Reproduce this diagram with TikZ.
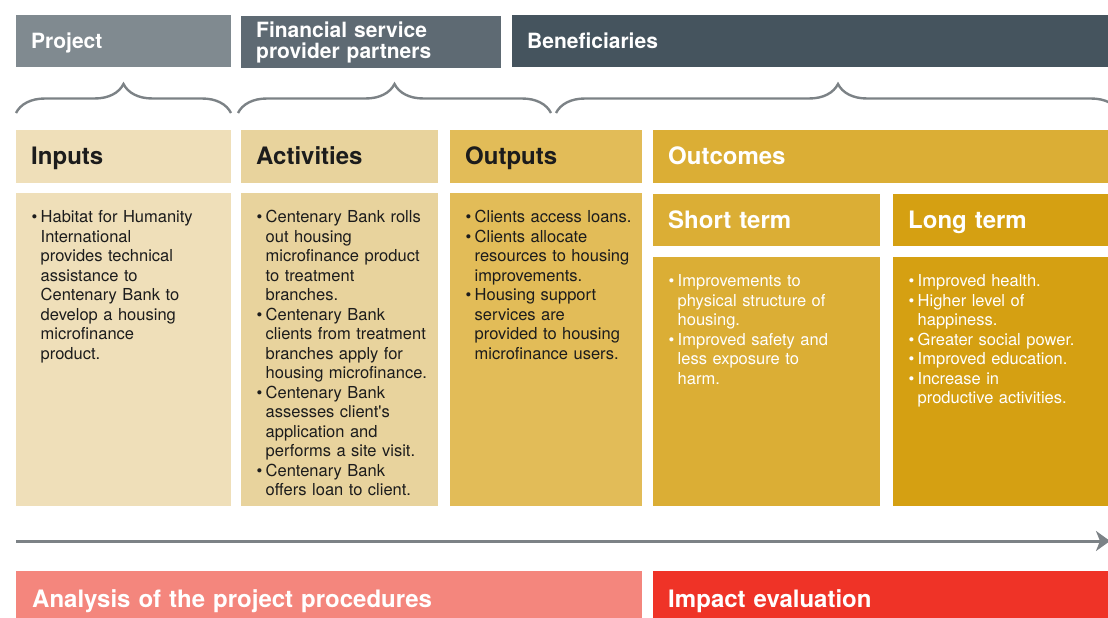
\documentclass[tikz,border=0pt]{standalone}
\usepackage{fontspec}
\setmainfont{TeX Gyre Heros}
\usetikzlibrary{positioning,arrows.meta,decorations.pathreplacing}
\definecolor{projgray}{HTML}{808A90}
\definecolor{fspgray}{HTML}{5E6A73}
\definecolor{benegray}{HTML}{45545E}
\definecolor{inputtan}{HTML}{EFDFB9}
\definecolor{acttan}{HTML}{E8D39D}
\definecolor{outgold}{HTML}{E2BC58}
\definecolor{outcgold}{HTML}{DBAE35}
\definecolor{longgold}{HTML}{D5A012}
\definecolor{procsalmon}{HTML}{F4867D}
\definecolor{impactred}{HTML}{EF3327}
\definecolor{bracegray}{HTML}{7C8286}
\definecolor{ink}{HTML}{1C1C1C}
\newcommand{\itm}{\par\hangindent=9pt\hangafter=1\noindent\makebox[9pt][l]{\textbullet}}

\begin{document}
\begin{tikzpicture}[x=1pt, y=-1pt,
		bar/.style={fill=#1, anchor=north west, inner xsep=15pt, inner ysep=0pt, align=left, text=white},
		toptab/.style={bar=#1, minimum height=52pt, font=\fontsize{21}{21}\selectfont\bfseries},
		head/.style={bar=#1, minimum height=53pt, text height=18pt, text depth=3pt, font=\fontsize{24}{28}\selectfont\bfseries},
		subhead/.style={bar=#1, minimum height=52pt, text height=19pt, text depth=2pt, font=\fontsize{24}{28}\selectfont\bfseries},
		foot/.style={bar=#1, minimum height=47pt, text height=25pt, text depth=0pt, font=\fontsize{24}{28}\selectfont\bfseries},
		panel/.style={fill=#1, anchor=north west, inner sep=0pt},
		blurb/.style={inner sep=0pt, text width=200pt, font=\fontsize{16.5}{19.5}\selectfont\raggedright},
		curly/.style={draw=bracegray, line width=2.4pt, decorate, decoration={brace, amplitude=29pt}}]
			\useasboundingbox (0, 0) rectangle (1108, 618);

			\node[toptab=projgray, text width=185pt, text height=17pt, text depth=2.5pt] (project) at (16, 15) {Project};
			\node[toptab=fspgray, text width=230pt, yshift=-1pt] (fsp) at (241, 15) {Financial service\\provider partners};
			\node[toptab=benegray, text width=566pt, text height=17pt, text depth=2.5pt] (bene) at (512, 15) {Beneficiaries};

			\draw[curly] (16, 113) -- (231, 113);
			\draw[curly] (238, 113) -- (551, 113);
			\draw[curly] (556, 113) -- (1120, 113);

			\node[head=inputtan, text=ink, text width=185pt] (inputs) at (16, 130) {Inputs};
			\node[head=acttan, text=ink, text width=167pt] (activities) at (241, 130) {Activities};
			\node[head=outgold, text=ink, text width=162pt] (outputs) at (450, 130) {Outputs};
			\node[head=outcgold, text width=425pt] (outcomes) at (653, 130) {Outcomes};

			\node[panel=inputtan, minimum width=215pt, minimum height=313pt] (inbody) at (16, 193) {};
			\node[panel=acttan, minimum width=197pt, minimum height=313pt] (actbody) at (241, 193) {};
			\node[panel=outgold, minimum width=192pt, minimum height=313pt] (outbody) at (450, 193) {};
			\node[subhead=outcgold, text width=197pt] (short) at (653, 194) {Short term};
			\node[subhead=longgold, text width=185pt] (long) at (893, 194) {Long term};
			\node[panel=outcgold, minimum width=227pt, minimum height=249pt] (shortbody) at (653, 257) {};
			\node[panel=longgold, minimum width=215pt, minimum height=249pt] (longbody) at (893, 257) {};

			\node[blurb, text=ink, below right=10pt and 15.5pt of inbody.north west] (intext) {%
				\itm Habitat for Humanity\newline International\newline provides technical\newline assistance to\newline Centenary Bank to\newline develop a housing\newline microfinance\newline product.\par};
			\node[blurb, text=ink, below right=10pt and 15.5pt of actbody.north west] (acttext) {%
				\itm Centenary Bank rolls\newline out housing\newline microfinance product\newline to treatment\newline branches.
				\itm Centenary Bank\newline clients from treatment\newline branches apply for\newline housing microfinance.
				\itm Centenary Bank\newline assesses client\textquotesingle s\newline application and\newline performs a site visit.
				\itm Centenary Bank\newline offers loan to client.\par};
			\node[blurb, text=ink, below right=10pt and 15.5pt of outbody.north west] (outtext) {%
				\itm Clients access loans.
				\itm Clients allocate\newline resources to housing\newline improvements.
				\itm Housing support\newline services are\newline provided to housing\newline microfinance users.\par};
			\node[blurb, text=white, below right=10pt and 15.5pt of shortbody.north west] (shorttext) {%
				\itm Improvements to\newline physical structure of\newline housing.
				\itm Improved safety and\newline less exposure to\newline harm.\par};
			\node[blurb, text=white, below right=10pt and 15.5pt of longbody.north west] (longtext) {%
				\itm Improved health.
				\itm Higher level of\newline happiness.
				\itm Greater social power.
				\itm Improved education.
				\itm Increase in\newline productive activities.\par};

			\coordinate (start) at (16, 541);
			\coordinate (finish) at (1110, 541);
			\draw[bracegray, line width=3pt, -{Stealth[length=14pt, width=20pt, inset=4pt]}] (start) -- (finish);

			\node[foot=procsalmon, text width=594pt, inner xsep=16pt] (procedures) at (16, 571) {Analysis of the project procedures};
			\node[foot=impactred, text width=425pt] (impact) at (653, 571) {Impact evaluation};
\end{tikzpicture}
\end{document}
